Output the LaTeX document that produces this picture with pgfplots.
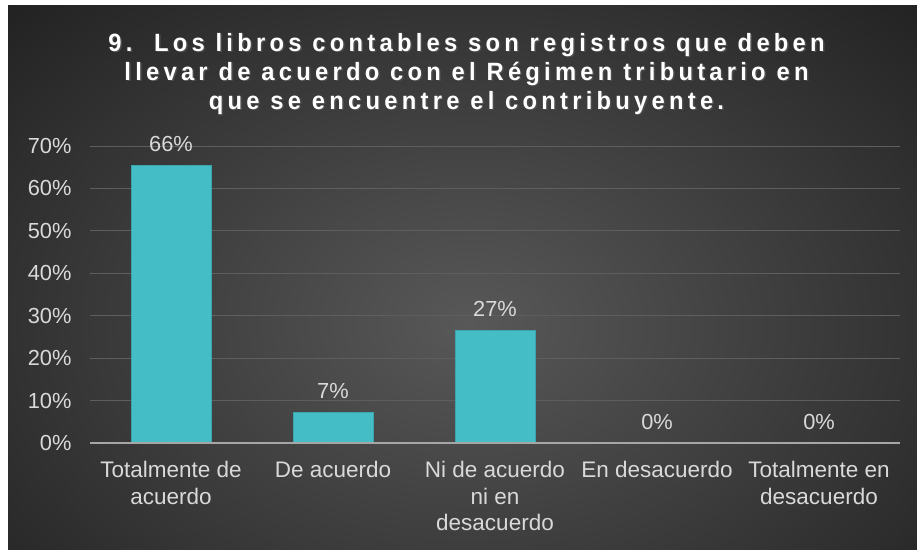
\documentclass[border=0pt]{standalone}
\usepackage{fontspec}
\setmainfont{Liberation Sans}
\newfontfamily\titlefont[LetterSpace=17,FakeStretch=0.95]{Liberation Sans}
\usepackage{pgfplots}
\pgfplotsset{compat=1.18}
\definecolor{barc}{HTML}{45BDC6}
\definecolor{barl}{HTML}{3AA5AD}
\definecolor{bgin}{HTML}{585858}
\definecolor{bgout}{HTML}{202020}
\definecolor{gridc}{HTML}{5E5E5E}
\definecolor{axisc}{HTML}{A6A6A6}
\definecolor{labc}{HTML}{D9D9D9}
\begin{document}
\begin{tikzpicture}
\useasboundingbox (0pt,0pt) rectangle (917pt,549pt);
\fill[white] (0pt,0pt) rectangle (917pt,549pt);
\begin{scope}
\clip (8pt,0pt) rectangle (917pt,543pt);
\shade[inner color=bgin, outer color=bgout] (-200pt,-250pt) rectangle (1140pt,700pt);
\end{scope}
\node[text=black!70, align=center, font={\titlefont\bfseries\fontsize{25}{29}\selectfont}] at (468pt,473.5pt) {9.\ \ Los libros contables son registros que deben\\llevar de acuerdo con el Régimen tributario en\\que se encuentre el contribuyente.};
\node[text=white, align=center, font={\titlefont\bfseries\fontsize{25}{29}\selectfont}] at (466.5pt,475pt) {9.\ \ Los libros contables son registros que deben\\llevar de acuerdo con el Régimen tributario en\\que se encuentre el contribuyente.};
\begin{axis}[
  at={(90pt,106pt)}, anchor=south west,
  scale only axis, width=810pt, height=297pt,
  xmin=-0.5, xmax=4.5, ymin=0, ymax=70,
  clip=false,
  axis line style={draw=none},
  major tick length=0pt,
  ytick={0,10,...,70},
  ymajorgrids, grid style={gridc, line width=1pt},
  /pgf/number format/assume math mode=true,
  yticklabel={\pgfmathprintnumber{\tick}\%},
  yticklabel style={text=labc, font=\fontsize{21.8}{25}\selectfont, xshift=-15pt},
  xtick={0,1,2,3,4},
  xticklabels={{Totalmente de\\acuerdo},{De acuerdo},{Ni de acuerdo\\ni en\\desacuerdo},{En desacuerdo},{Totalmente en\\desacuerdo}},
  xticklabel style={text=labc, align=center, anchor=north, font=\fontsize{22.5}{26.5}\selectfont, yshift=-15pt},
]
\addplot[ybar, bar width=80pt, fill=barc, draw=barl, line width=0.6pt,
  point meta=\thisrow{lab},
  nodes near coords={\pgfmathprintnumber[fixed,precision=0]{\pgfplotspointmeta}\%},
  nodes near coords style={text=labc, font=\fontsize{21.8}{25}\selectfont, anchor=south, yshift=10pt}]
  table[x=x, y=y] {
x y lab
0 65.5 66
1 7.2 7
2 26.6 27
3 0 0
4 0 0
};
\draw[axisc, line width=1.6pt] (axis cs:-0.5,0) -- (axis cs:4.5,0);
\end{axis}
\end{tikzpicture}
\end{document}
